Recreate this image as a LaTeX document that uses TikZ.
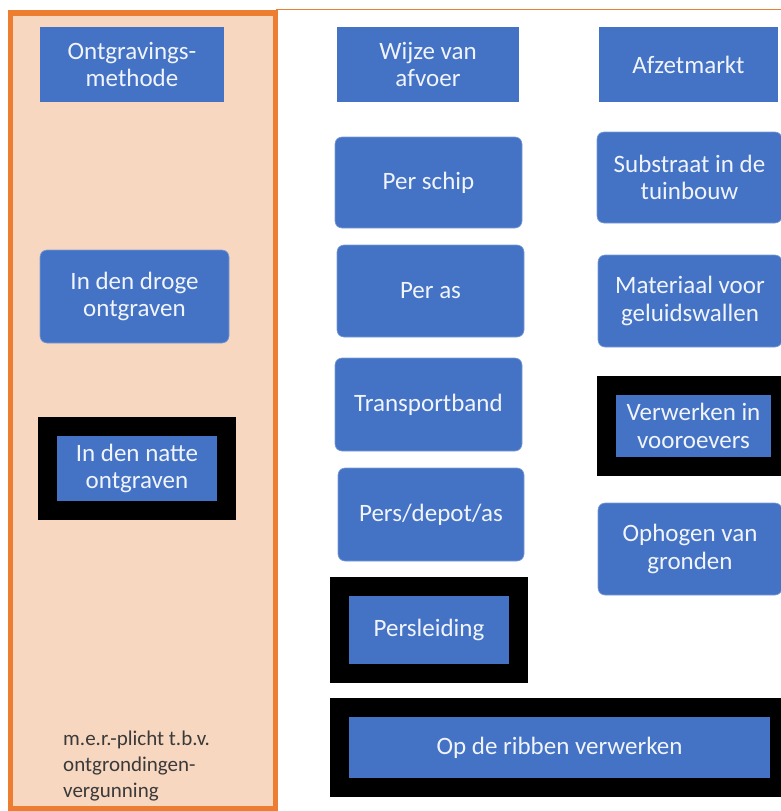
\documentclass[tikz,border=0pt]{standalone}
\usepackage{fontspec}
\setmainfont{Carlito}
\definecolor{boxblue}{RGB}{68,114,196}
\definecolor{peach}{RGB}{248,215,192}
\definecolor{orng}{RGB}{237,125,49}
\definecolor{txtw}{RGB}{240,244,252}
\definecolor{graytxt}{RGB}{58,58,58}
\tikzset{
  base/.style={fill=boxblue, text=txtw, align=center, inner sep=0pt, outer sep=0pt,
    font=\fontsize{25}{27.5}\selectfont},
  sqbox/.style={base},
  rbox/.style={base, rounded corners=7pt, draw=boxblue!70!white, line width=0.6pt},
  framebox/.style={base, draw=black, line width=19pt},
}
\begin{document}
\begin{tikzpicture}[x=1pt,y=-1pt]
\useasboundingbox (0,0) rectangle (781,811);
\fill[white] (0,0) rectangle (781,811);
% left panel
\draw[orng, line width=1.6pt] (276,9.5) -- (781,9.5);
\draw[orng, fill=peach, line width=5.5pt] (10.5,13) rectangle (275.5,808.5);
% header row
\node[sqbox, minimum width=184pt, minimum height=75pt] (ontgr) at (132,64.5) {Ontgravings-\\methode};
\node[sqbox, minimum width=182pt, minimum height=75pt] (wijze) at (428,64.5) {Wijze van\\afvoer};
\node[sqbox, minimum width=179pt, minimum height=75pt] (afzet) at (688.5,64.5) {Afzetmarkt};
% left column
\node[rbox, minimum width=189pt, minimum height=93pt] (droge) at (134.5,296.5) {In den droge\\ontgraven};
\node[framebox, minimum width=179pt, minimum height=84pt] (natte) at (137,468.5) {In den natte\\ontgraven};
\node[anchor=north west, align=left, text=graytxt, inner sep=0pt,
  font=\fontsize{21}{26}\selectfont] (mer) at (63,731) {m.e.r.-plicht t.b.v.\\ontgrondingen-\\vergunning};
% middle column
\node[rbox, minimum width=187pt, minimum height=91pt] (schip) at (428.5,182.5) {Per schip};
\node[rbox, minimum width=187pt, minimum height=92pt] (as) at (430.5,291) {Per as};
\node[rbox, minimum width=187pt, minimum height=93pt] (band) at (428.5,404.5) {Transportband};
\node[rbox, minimum width=186pt, minimum height=93pt] (depot) at (431,514.5) {Pers/depot/as};
\node[framebox, minimum width=179pt, minimum height=87pt] (leiding) at (429,630) {Persleiding};
\node[framebox, minimum width=440pt, minimum height=80pt] (ribben) at (559.5,747.5) {Op de ribben verwerken};
% right column
\node[rbox, minimum width=185pt, minimum height=91pt] (substraat) at (689.5,177.5) {Substraat in de\\tuinbouw};
\node[rbox, minimum width=184pt, minimum height=92pt] (materiaal) at (690,301) {Materiaal voor\\geluidswallen};
\node[framebox, minimum width=174pt, minimum height=81pt] (vooroevers) at (693.5,426) {Verwerken in\\vooroevers};
\node[rbox, minimum width=184pt, minimum height=92pt] (ophogen) at (690,549) {Ophogen van\\gronden};
\end{tikzpicture}
\end{document}
